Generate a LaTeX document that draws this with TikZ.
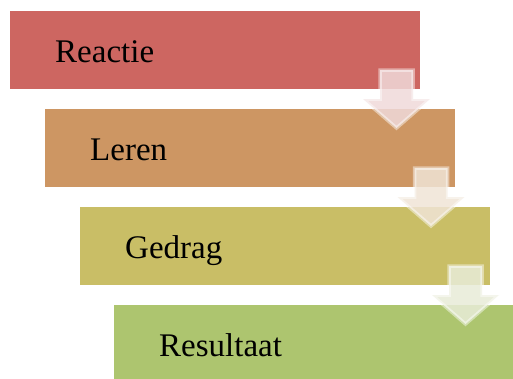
\documentclass[tikz,border=0pt]{standalone}
\usepackage{fontspec}
\setmainfont{Liberation Serif}
\definecolor{cA}{RGB}{205,102,97}
\definecolor{cB}{RGB}{205,150,99}
\definecolor{cC}{RGB}{201,190,102}
\definecolor{cD}{RGB}{173,197,111}
\definecolor{aA}{RGB}{240,218,218}
\definecolor{aB}{RGB}{240,228,214}
\definecolor{aC}{RGB}{232,236,216}
\tikzset{
  stepbox/.style={anchor=north west, minimum width=410pt, minimum height=78pt,
    text width=320pt, inner xsep=45pt, inner ysep=0pt, align=left,
    text height=27pt, text depth=3pt,
    font=\fontsize{33}{40}\selectfont, text=black},
  downarrow/.style={fill opacity=0.85, draw=white, draw opacity=0.45, line width=3.5pt, line join=miter}
}
\begin{document}
\begin{tikzpicture}[x=1pt,y=-1pt]
\useasboundingbox (0,0) rectangle (513,378);
\clip (0,0) rectangle (513,378);
\fill[white] (0,0) rectangle (513,378);
\node[stepbox, fill=cA] (b1) at (10,11) {Reactie};
\node[stepbox, fill=cB] (b2) at (45,109) {Leren};
\node[stepbox, fill=cC] (b3) at (80,207) {Gedrag};
\node[stepbox, fill=cD] (b4) at (114,305) {Resultaat};
% arrows
\path[downarrow, fill=aA] (380,70) -- (413,70) -- (413,99) -- (430,99) -- (396.5,128) -- (363,99) -- (380,99) -- cycle;
\path[downarrow, fill=aB] (414.5,168) -- (447.5,168) -- (447.5,197) -- (464.5,197) -- (431,226) -- (397.5,197) -- (414.5,197) -- cycle;
\path[downarrow, fill=aC] (449,266) -- (482,266) -- (482,295) -- (499,295) -- (465.5,324) -- (432,295) -- (449,295) -- cycle;
\end{tikzpicture}
\end{document}
